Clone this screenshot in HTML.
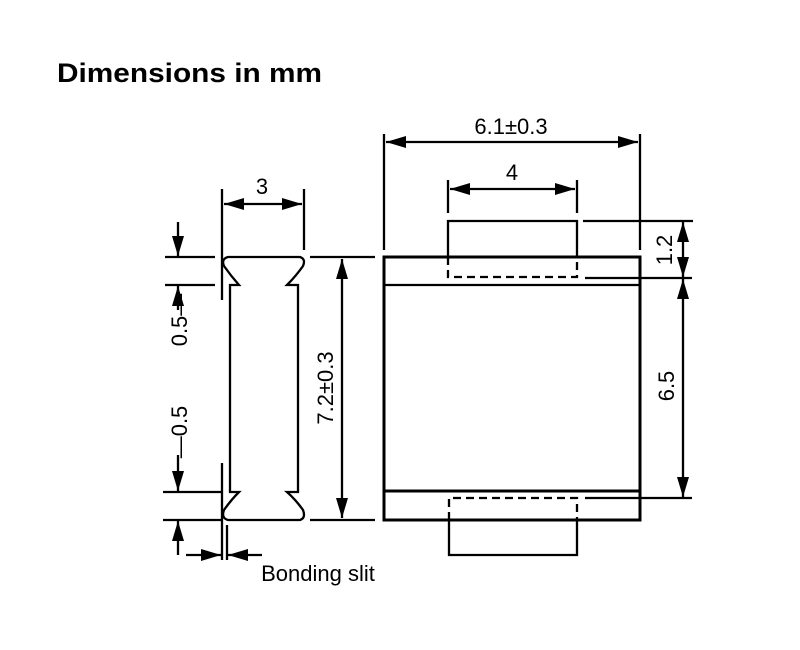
<!DOCTYPE html>
<html><head><style>html,body{margin:0;padding:0;background:#fff}svg{display:block}</style></head>
<body>
<svg width="800" height="650" viewBox="0 0 800 650" xmlns="http://www.w3.org/2000/svg" font-family="Liberation Sans, sans-serif">
<defs>
<marker id="a" viewBox="0 0 20 12" refX="20" refY="6" markerWidth="20" markerHeight="12" markerUnits="userSpaceOnUse" orient="auto-start-reverse"><path d="M0,0L20,6L0,12z" fill="#000"/></marker>
</defs>
<text x="57" y="82" font-size="27" font-weight="bold" textLength="265" lengthAdjust="spacingAndGlyphs">Dimensions in mm</text>
<g stroke="#000" fill="none" stroke-width="2.3">
<rect x="384" y="257" width="256" height="263" stroke-width="3"/>
<line x1="384" y1="285" x2="640" y2="285"/>
<line x1="384" y1="491" x2="640" y2="491" stroke-width="3"/>
<path d="M448,257V221H577V257"/>
<path d="M448,257V277H577V257" stroke-dasharray="8,5"/>
<path d="M449,520V555H577V520"/>
<path d="M449,520V498H577V520" stroke-dasharray="8,5"/>
<line x1="384" y1="134" x2="384" y2="250"/>
<line x1="640" y1="134" x2="640" y2="250"/>
<line x1="386" y1="142" x2="638" y2="142" marker-start="url(#a)" marker-end="url(#a)"/>
<line x1="448" y1="180" x2="448" y2="213"/>
<line x1="577" y1="180" x2="577" y2="213"/>
<line x1="450" y1="189" x2="575" y2="189" marker-start="url(#a)" marker-end="url(#a)"/>
<line x1="583" y1="221" x2="693" y2="221"/>
<line x1="585" y1="278" x2="692" y2="278"/>
<line x1="585" y1="498" x2="692" y2="498"/>
<line x1="683" y1="222" x2="683" y2="277" marker-start="url(#a)" marker-end="url(#a)"/>
<line x1="683" y1="279" x2="683" y2="497" marker-start="url(#a)" marker-end="url(#a)"/>
<path d="M228,257H300Q306,259 303,266Q296,276 287,285H298V492H287Q296,500 303,510Q306,518 300,520H228Q221,518 224,510Q231,500 239,492H230V285H239Q231,276 224,266Q221,259 228,257Z"/>
<line x1="222" y1="189" x2="222" y2="300"/>
<line x1="304" y1="189" x2="304" y2="250"/>
<line x1="224" y1="204" x2="302" y2="204" marker-start="url(#a)" marker-end="url(#a)"/>
<line x1="310" y1="257" x2="375" y2="257"/>
<line x1="310" y1="520" x2="375" y2="520"/>
<line x1="342" y1="259" x2="342" y2="518" marker-start="url(#a)" marker-end="url(#a)"/>
<line x1="165" y1="257" x2="215" y2="257"/>
<line x1="165" y1="285" x2="215" y2="285"/>
<line x1="178" y1="222" x2="178" y2="256" marker-end="url(#a)"/>
<line x1="178" y1="310" x2="178" y2="286" marker-end="url(#a)"/>
<line x1="163" y1="492" x2="222" y2="492"/>
<line x1="163" y1="520" x2="222" y2="520"/>
<line x1="178" y1="455" x2="178" y2="491" marker-end="url(#a)"/>
<line x1="178" y1="555" x2="178" y2="521" marker-end="url(#a)"/>
<line x1="222" y1="463" x2="222" y2="560"/>
<line x1="227" y1="525" x2="227" y2="560"/>
<line x1="186" y1="555" x2="221" y2="555" marker-end="url(#a)"/>
<line x1="262" y1="555" x2="228" y2="555" marker-end="url(#a)"/>
</g>
<g font-size="22" fill="#000" text-anchor="middle">
<text x="511" y="134">6.1±0.3</text>
<text x="512" y="180">4</text>
<text x="262" y="194">3</text>
<text transform="translate(672,250) rotate(-90)">1.2</text>
<text transform="translate(674,386) rotate(-90)">6.5</text>
<text transform="translate(333,388) rotate(-90)">7.2±0.3</text>
<text transform="translate(187,320) rotate(-90)">0.5—</text>
<text transform="translate(187,432) rotate(-90)">—0.5</text>
<text x="318" y="581">Bonding slit</text>
</g>
</svg>
</body></html>
